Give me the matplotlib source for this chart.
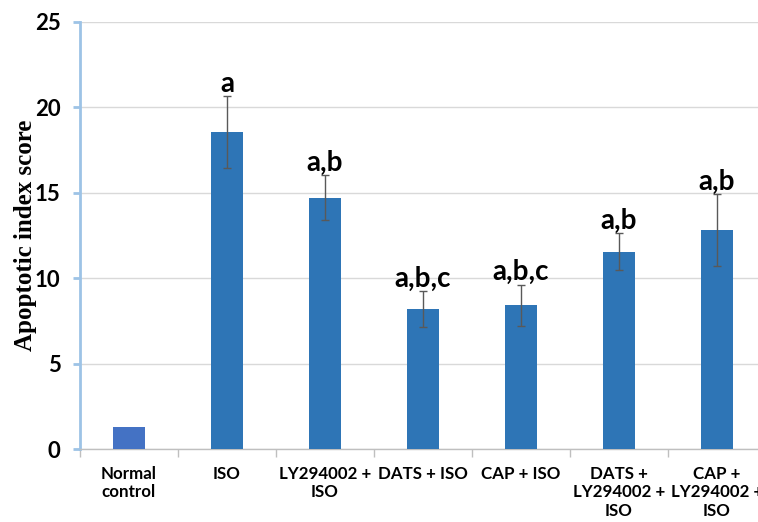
import matplotlib.pyplot as plt
import numpy as np

groups = ["Normal\ncontrol", "ISO", "LY294002 +\nISO", "DATS + ISO", "CAP + ISO",
          "DATS +\nLY294002 +\nISO", "CAP +\nLY294002 +\nISO"]
means = [1.3, 18.55, 14.72, 8.18, 8.43, 11.55, 12.82]
errors = [0.0, 2.1, 1.32, 1.05, 1.2, 1.08, 2.1]
letters = ["", "a", "a,b", "a,b,c", "a,b,c", "a,b", "a,b"]
colors = ["#4472C4"] + ["#2E75B6"] * 6

fig = plt.figure(figsize=(7.58, 5.22), dpi=100)
ax = fig.add_axes([80 / 758, 73 / 522, 686 / 758, 427 / 522])

x = np.arange(len(groups))
ax.bar(x, means, width=0.32, color=colors, zorder=3)
for i in range(1, len(groups)):
    ax.errorbar(x[i], means[i], yerr=errors[i], fmt='none', ecolor='#595959',
                elinewidth=1, capsize=3, capthick=1, zorder=4)
    ax.annotate(letters[i], (x[i], means[i] + errors[i]), xytext=(0, 3),
                textcoords='offset points', ha='center', va='baseline',
                fontsize=20, fontweight='bold', family='Lato')

ax.set_xlim(-0.5, 6.5)
ax.set_ylim(0, 25)
ax.set_yticks([0, 5, 10, 15, 20, 25])
ax.set_xticks(x)
ax.set_xticklabels(groups, fontsize=12.2, fontweight='bold', family='Lato',
                   linespacing=1.2)
ax.set_xticks(np.arange(-0.5, 7, 1), minor=True)
ax.tick_params(axis='x', which='major', length=0, pad=12)
ax.tick_params(axis='x', which='minor', length=6, color='#BFBFBF', width=1)
ax.tick_params(axis='y', length=5, color='#9DC3E6', width=2, pad=9)
for lab in ax.get_yticklabels():
    lab.set_fontsize(16)
    lab.set_fontweight('bold')
    lab.set_family('Lato')

ax.grid(axis='y', color='#D9D9D9', linewidth=1, zorder=0)
for s in ['top', 'right']:
    ax.spines[s].set_visible(False)
ax.spines['left'].set_color('#9DC3E6')
ax.spines['left'].set_linewidth(2)
ax.spines['bottom'].set_color('#BFBFBF')
ax.spines['bottom'].set_linewidth(1)

ax.set_ylabel("Apoptotic index score", fontsize=18, fontweight='bold',
              family='Liberation Serif', va='center')
ax.yaxis.set_label_coords(-0.08, 0.5)

fig.savefig("out.png", dpi=100)
